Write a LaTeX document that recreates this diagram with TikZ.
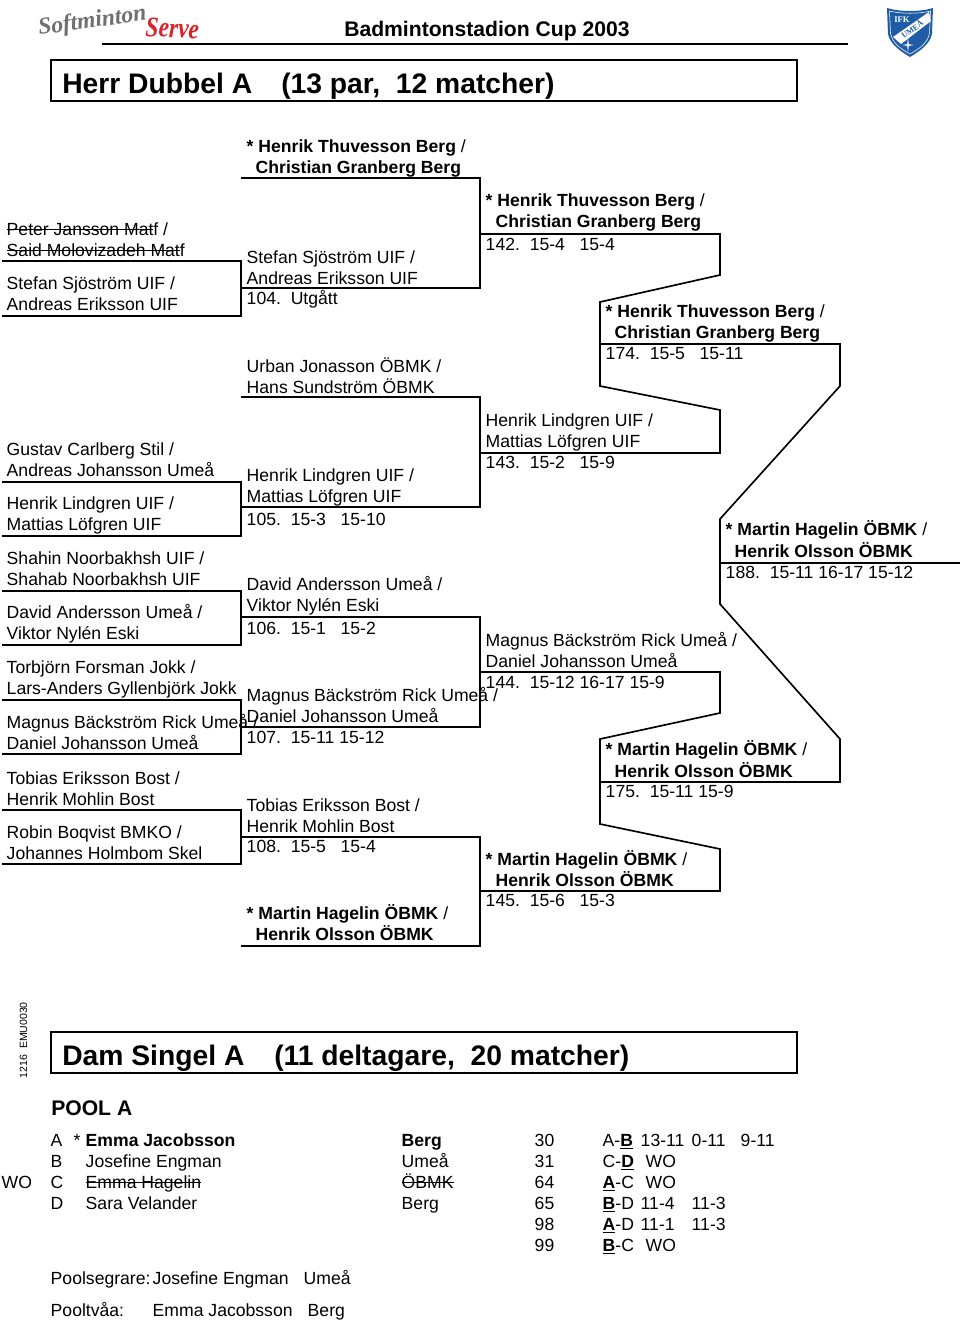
\documentclass[tikz,border=0pt]{standalone}
\usepackage{fontspec}
\setmainfont{Liberation Sans}
\newfontfamily\logofont{Liberation Serif}
\definecolor{shieldblue}{HTML}{1F5CA6}
\definecolor{logored}{HTML}{D8252B}
\definecolor{logogray}{HTML}{707070}
\usetikzlibrary{positioning,calc}
\newsavebox{\stkbox}
\newcommand{\stk}[1]{\sbox{\stkbox}{#1}\rlap{\rule[0.33em]{\wd\stkbox}{0.8pt}}\usebox{\stkbox}}
\begin{document}
\begin{tikzpicture}[x=0.75pt,y=-0.75pt,
  rowlbl/.style={anchor=base west,inner sep=0pt,xshift=-0.4pt,yshift=-0.6pt,font=\fontsize{13.2}{15.75}\selectfont},
  boldlbl/.style={rowlbl,font=\fontsize{13.2}{15.75}\selectfont\bfseries},
  titlelbl/.style={anchor=base west,inner sep=0pt,font=\fontsize{21.2}{26}\selectfont\bfseries},
  bracket/.style={line width=1.25pt,line join=miter}]
\useasboundingbox (0,0) rectangle (960,1322);
% header
\node[anchor=base west,inner sep=0pt,font=\fontsize{15.85}{19}\selectfont\bfseries] (cup) at (344,36) {Badmintonstadion Cup 2003};
\draw[bracket] (102,44) -- (848,44);
\node[anchor=base west,inner sep=0pt,rotate=8,text=logogray,font=\fontsize{17.7}{20}\logofont\bfseries\itshape] (soft) at (39,35) {Softminton};
\node[anchor=base west,inner sep=0pt,rotate=-3,xscale=0.82,text=logored,font=\fontsize{21.5}{24}\logofont\bfseries\itshape] (serve) at (145,36) {Serve};
\fill[shieldblue] (887,8) .. controls (900,12) and (920,12) .. (933,8) -- (932,34) .. controls (930,44) and (920,51) .. (910,57) .. controls (900,51) and (890,44) .. (888,34) -- cycle;
\draw[white,line width=0.4pt] (889.5,11) .. controls (900,14) and (920,14) .. (930.5,11) -- (929.5,33) .. controls (928,43) and (919,49) .. (910,54) .. controls (901,49) and (892,43) .. (890.5,33) -- cycle;
\fill[white] (893,37) -- (929,12) -- (931,21) -- (901,44) -- cycle;
\node[inner sep=0pt,text=white,font=\fontsize{6.5}{8}\logofont\bfseries] (ifk) at (902,20) {IFK};
\node[inner sep=0pt,rotate=35,text=shieldblue,font=\fontsize{6}{7}\logofont\bfseries] (umea) at (912,29) {UMEÅ};
\fill[white] (907.2,44.2) -- (908,38) -- (908.8,44.2) -- (914,45) -- (908.8,45.8) -- (908,52) -- (907.2,45.8) -- (902,45) -- cycle;
% title
\draw[bracket] (51,60) rectangle (797,101);
\node[titlelbl] (herr) at (62,93) {Herr Dubbel A};
\node[titlelbl] (herrn) at (281,93) {(13 par,\ \ 12 matcher)};
% first round
\node[rowlbl] (r1a) at (7,235) {\stk{Peter Jansson Mat}f /};
\node[rowlbl] (r1b) at (7,256) {\stk{Said Molovizadeh Mat}f};
\node[rowlbl] (r2a) at (7,289) {Stefan Sjöström UIF /};
\node[rowlbl] (r2b) at (7,310) {Andreas Eriksson UIF};
\node[rowlbl] (r3a) at (7,455) {Gustav Carlberg Stil /};
\node[rowlbl] (r3b) at (7,476) {Andreas Johansson Umeå};
\node[rowlbl] (r4a) at (7,509) {Henrik Lindgren UIF /};
\node[rowlbl] (r4b) at (7,530) {Mattias Löfgren UIF};
\node[rowlbl] (r5a) at (7,564) {Shahin Noorbakhsh UIF /};
\node[rowlbl] (r5b) at (7,585) {Shahab Noorbakhsh UIF};
\node[rowlbl] (r6a) at (7,618) {David Andersson Umeå /};
\node[rowlbl] (r6b) at (7,639) {Viktor Nylén Eski};
\node[rowlbl] (r7a) at (7,673) {Torbjörn Forsman Jokk /};
\node[rowlbl] (r7b) at (7,694) {Lars-Anders Gyllenbjörk Jokk};
\node[rowlbl] (r8a) at (7,728) {Magnus Bäckström Rick Umeå /};
\node[rowlbl] (r8b) at (7,749) {Daniel Johansson Umeå};
\node[rowlbl] (r9a) at (7,784) {Tobias Eriksson Bost /};
\node[rowlbl] (r9b) at (7,805) {Henrik Mohlin Bost};
\node[rowlbl] (r10a) at (7,838) {Robin Boqvist BMKO /};
\node[rowlbl] (r10b) at (7,859) {Johannes Holmbom Skel};
\draw[bracket] (2,261) -- (241,261) -- (241,316) -- (2,316);
\draw[bracket] (2,482) -- (241,482) -- (241,536) -- (2,536);
\draw[bracket] (2,591) -- (241,591) -- (241,645) -- (2,645);
\draw[bracket] (2,700) -- (241,700) -- (241,754) -- (2,754);
\draw[bracket] (2,810) -- (241,810) -- (241,864) -- (2,864);
% second round
\node[boldlbl] (s1a) at (247,152) {* Henrik Thuvesson Berg {\mdseries /}};
\node[boldlbl] (s1b) at (256,173) {Christian Granberg Berg};
\node[rowlbl] (s2a) at (247,263) {Stefan Sjöström UIF /};
\node[rowlbl] (s2b) at (247,284) {Andreas Eriksson UIF};
\node[rowlbl] (s2c) at (247,304) {104.\ \ Utgått};
\node[rowlbl] (s3a) at (247,372) {Urban Jonasson ÖBMK /};
\node[rowlbl] (s3b) at (247,393) {Hans Sundström ÖBMK};
\node[rowlbl] (s4a) at (247,481) {Henrik Lindgren UIF /};
\node[rowlbl] (s4b) at (247,502) {Mattias Löfgren UIF};
\node[rowlbl] (s4c) at (247,525) {105.\ \ 15-3\ \ \ 15-10};
\node[rowlbl] (s5a) at (247,590) {David Andersson Umeå /};
\node[rowlbl] (s5b) at (247,611) {Viktor Nylén Eski};
\node[rowlbl] (s5c) at (247,634) {106.\ \ 15-1\ \ \ 15-2};
\node[rowlbl] (s6a) at (247,701) {Magnus Bäckström Rick Umeå /};
\node[rowlbl] (s6b) at (247,722) {Daniel Johansson Umeå};
\node[rowlbl] (s6c) at (247,743) {107.\ \ 15-11 15-12};
\node[rowlbl] (s7a) at (247,811) {Tobias Eriksson Bost /};
\node[rowlbl] (s7b) at (247,832) {Henrik Mohlin Bost};
\node[rowlbl] (s7c) at (247,852) {108.\ \ 15-5\ \ \ 15-4};
\node[boldlbl] (s8a) at (247,919) {* Martin Hagelin ÖBMK {\mdseries /}};
\node[boldlbl] (s8b) at (256,940) {Henrik Olsson ÖBMK};
\draw[bracket] (241,178) -- (480,178) -- (480,288) -- (241,288);
\draw[bracket] (241,397) -- (480,397) -- (480,507) -- (241,507);
\draw[bracket] (241,617) -- (480,617) -- (480,727) -- (241,727);
\draw[bracket] (241,837) -- (480,837) -- (480,946) -- (241,946);
% third round
\node[boldlbl] (t1a) at (486,206) {* Henrik Thuvesson Berg {\mdseries /}};
\node[boldlbl] (t1b) at (496,227) {Christian Granberg Berg};
\node[rowlbl] (t1c) at (486,250) {142.\ \ 15-4\ \ \ 15-4};
\node[rowlbl] (t2a) at (486,426) {Henrik Lindgren UIF /};
\node[rowlbl] (t2b) at (486,447) {Mattias Löfgren UIF};
\node[rowlbl] (t2c) at (486,468) {143.\ \ 15-2\ \ \ 15-9};
\node[rowlbl] (t3a) at (486,646) {Magnus Bäckström Rick Umeå /};
\node[rowlbl] (t3b) at (486,667) {Daniel Johansson Umeå};
\node[rowlbl] (t3c) at (486,688) {144.\ \ 15-12 16-17 15-9};
\node[boldlbl] (t4a) at (486,865) {* Martin Hagelin ÖBMK {\mdseries /}};
\node[boldlbl] (t4b) at (496,886) {Henrik Olsson ÖBMK};
\node[rowlbl] (t4c) at (486,906) {145.\ \ 15-6\ \ \ 15-3};
\draw[bracket] (480,234) -- (720,234) -- (720,275) -- (600,302) -- (600,386) -- (720,410) -- (720,453) -- (480,453);
\draw[bracket] (480,672) -- (720,672) -- (720,713) -- (600,739) -- (600,824) -- (720,849) -- (720,891) -- (480,891);
% semifinals and final
\node[boldlbl] (u1a) at (606,317) {* Henrik Thuvesson Berg {\mdseries /}};
\node[boldlbl] (u1b) at (615,338) {Christian Granberg Berg};
\node[rowlbl] (u1c) at (606,359) {174.\ \ 15-5\ \ \ 15-11};
\node[boldlbl] (u2a) at (606,755) {* Martin Hagelin ÖBMK {\mdseries /}};
\node[boldlbl] (u2b) at (615,777) {Henrik Olsson ÖBMK};
\node[rowlbl] (u2c) at (606,797) {175.\ \ 15-11 15-9};
\node[boldlbl] (f1a) at (726,535) {* Martin Hagelin ÖBMK {\mdseries /}};
\node[boldlbl] (f1b) at (735,557) {Henrik Olsson ÖBMK};
\node[rowlbl] (f1c) at (726,578) {188.\ \ 15-11 16-17 15-12};
\draw[bracket] (600,344) -- (840,344) -- (840,386) -- (720,519) -- (720,604) -- (840,739) -- (840,782) -- (600,782);
\draw[bracket] (720,563) -- (960,563);
% second class
\node[rotate=90,anchor=base west,inner sep=0pt,font=\fontsize{7.9}{9}\selectfont] (code) at (27,1078.5) {1216\ \ EMU0030};
\draw[bracket] (51,1032) rectangle (797,1073);
\node[titlelbl] (dam) at (62,1065) {Dam Singel A};
\node[titlelbl] (damn) at (274,1065) {(11 deltagare,\ \ 20 matcher)};
\node[anchor=base west,inner sep=0pt,font=\fontsize{15.85}{19}\selectfont\bfseries] (pool) at (51,1115) {POOL A};
% pool rows
\node[rowlbl] (pa) at (51,1146) {A};
\node[rowlbl] (pas) at (74,1146) {*};
\node[boldlbl] (pan) at (86,1146) {Emma Jacobsson};
\node[boldlbl] (pac) at (402,1146) {Berg};
\node[rowlbl] (pb) at (51,1167) {B};
\node[rowlbl] (pbn) at (86,1167) {Josefine Engman};
\node[rowlbl] (pbc) at (402,1167) {Umeå};
\node[rowlbl] (wo) at (2,1188) {WO};
\node[rowlbl] (pc) at (51,1188) {C};
\node[rowlbl] (pcn) at (86,1188) {\stk{Emma Hagelin}};
\node[rowlbl] (pcc) at (402,1188) {\stk{ÖBMK}};
\node[rowlbl] (pd) at (51,1209) {D};
\node[rowlbl] (pdn) at (86,1209) {Sara Velander};
\node[rowlbl] (pdc) at (402,1209) {Berg};
% pool matches
\node[rowlbl] (m1) at (535,1146) {30};
\node[rowlbl] (m1p) at (603,1146) {A-\underline{\textbf{B}}};
\node[rowlbl] (m1x) at (641,1146) {13-11};
\node[rowlbl] (m1y) at (692,1146) {0-11};
\node[rowlbl] (m1z) at (741,1146) {9-11};
\node[rowlbl] (m2) at (535,1167) {31};
\node[rowlbl] (m2p) at (603,1167) {C-\underline{\textbf{D}}};
\node[rowlbl] (m2x) at (646,1167) {WO};
\node[rowlbl] (m3) at (535,1188) {64};
\node[rowlbl] (m3p) at (603,1188) {\underline{\textbf{A}}-C};
\node[rowlbl] (m3x) at (646,1188) {WO};
\node[rowlbl] (m4) at (535,1209) {65};
\node[rowlbl] (m4p) at (603,1209) {\underline{\textbf{B}}-D};
\node[rowlbl] (m4x) at (641,1209) {11-4};
\node[rowlbl] (m4y) at (692,1209) {11-3};
\node[rowlbl] (m5) at (535,1230) {98};
\node[rowlbl] (m5p) at (603,1230) {\underline{\textbf{A}}-D};
\node[rowlbl] (m5x) at (641,1230) {11-1};
\node[rowlbl] (m5y) at (692,1230) {11-3};
\node[rowlbl] (m6) at (535,1251) {99};
\node[rowlbl] (m6p) at (603,1251) {\underline{\textbf{B}}-C};
\node[rowlbl] (m6x) at (646,1251) {WO};
% pool result
\node[rowlbl] (seg) at (51,1284) {Poolsegrare:};
\node[rowlbl] (segn) at (153,1284) {Josefine Engman};
\node[rowlbl] (segc) at (304,1284) {Umeå};
\node[rowlbl] (two) at (51,1316) {Pooltvåa:};
\node[rowlbl] (twon) at (153,1316) {Emma Jacobsson};
\node[rowlbl] (twoc) at (308,1316) {Berg};
\end{tikzpicture}
\end{document}
